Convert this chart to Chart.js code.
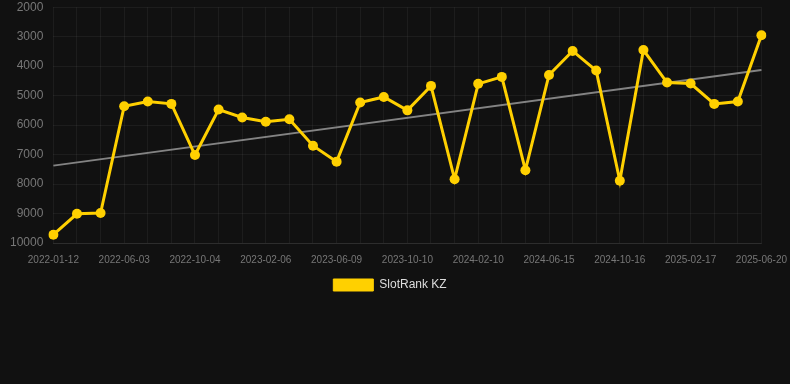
<!DOCTYPE html>
<html>
<head>
<meta charset="utf-8">
<style>
  html, body { margin: 0; padding: 0; background: #111111; overflow: hidden; }
  #wrap { position: relative; top: -10px; width: 798px; height: 311px; }
</style>
<script src="https://cdn.jsdelivr.net/npm/chart.js@4.4.0/dist/chart.umd.min.js"></script>
</head>
<body>
<div id="wrap"><canvas id="c"></canvas></div>
<script>
const dates = [
  "2022-01-12","2022-02-28","2022-04-16","2022-06-03","2022-07-20","2022-08-17",
  "2022-10-04","2022-11-20","2022-12-21","2023-02-06","2023-03-25","2023-05-01",
  "2023-06-09","2023-07-26","2023-08-24","2023-10-10","2023-11-26","2023-12-25",
  "2024-02-10","2024-03-28","2024-04-29","2024-06-15","2024-08-01","2024-08-30",
  "2024-10-16","2024-12-02","2025-01-01","2025-02-17","2025-04-05","2025-05-04",
  "2025-06-20"
];
const rankValues = [
  9720, 9010, 8985, 5360, 5200, 5280, 7015, 5470, 5740, 5885, 5800, 6700,
  7240, 5235, 5045, 5500, 4670, 7835, 4600, 4365, 7530, 4300, 3485, 4150,
  7890, 3455, 4555, 4590, 5280, 5200, 2950
];
const trendStart = 7375;
const trendEnd = 4130;
const yTicks = [2000, 3000, 4000, 5000, 6000, 7000, 8000, 9000, 10000];

const trendValues = dates.map((d, i) => i === 0 ? trendStart : (i === dates.length - 1 ? trendEnd : null));

Chart.defaults.font.family = "Arial, 'Liberation Sans', sans-serif";

const legendShift = {
  id: 'legendShift',
  afterLayout(chart) {
    const lg = chart.legend;
    if (lg) { lg.left -= 9; lg.right -= 9; }
  }
};

new Chart(document.getElementById('c'), {
  type: 'line',
  data: {
    labels: dates,
    datasets: [
      {
        label: 'SlotRank KZ',
        data: rankValues,
        borderColor: '#FFD000',
        backgroundColor: '#FFD000',
        borderWidth: 3,
        pointRadius: 5,
        pointHoverRadius: 5,
        pointBorderWidth: 0,
        pointBackgroundColor: '#FFD000',
        tension: 0,
        order: 1
      },
      {
        label: 'trend',
        data: trendValues,
        borderColor: 'rgba(160,160,160,0.8)',
        borderWidth: 2,
        pointRadius: 0,
        spanGaps: true,
        order: 2
      }
    ]
  },
  plugins: [legendShift],
  options: {
    responsive: true,
    maintainAspectRatio: false,
    animation: false,
    plugins: {
      legend: {
        position: 'bottom',
        labels: {
          color: '#dddddd',
          font: { size: 12 },
          boxWidth: 40,
          boxHeight: 12,
          padding: 2,
          filter: (item) => item.datasetIndex === 0,
          generateLabels: (chart) => {
            const items = Chart.defaults.plugins.legend.labels.generateLabels(chart);
            items.forEach(it => { it.lineWidth = 1; });
            return items;
          }
        }
      },
      tooltip: { enabled: false }
    },
    scales: {
      x: {
        grid: { color: 'rgba(255,255,255,0.05)', drawTicks: false },
        border: { color: 'rgba(255,255,255,0.08)' },
        ticks: {
          color: '#777777',
          font: { size: 10 },
          autoSkip: false,
          maxRotation: 0,
          padding: 11,
          callback: function(v, i) { return i % 3 === 0 ? dates[i] : ''; }
        }
      },
      y: {
        reverse: true,
        min: 2000,
        max: 10000,
        grid: { color: 'rgba(255,255,255,0.05)', drawTicks: false },
        border: { display: false },
        afterBuildTicks: (axis) => { axis.ticks = yTicks.map(v => ({ value: v })); },
        ticks: {
          color: '#777777',
          font: { size: 12 },
          padding: 10,
          callback: (v) => String(v)
        }
      }
    }
  }
});
</script>
</body>
</html>
